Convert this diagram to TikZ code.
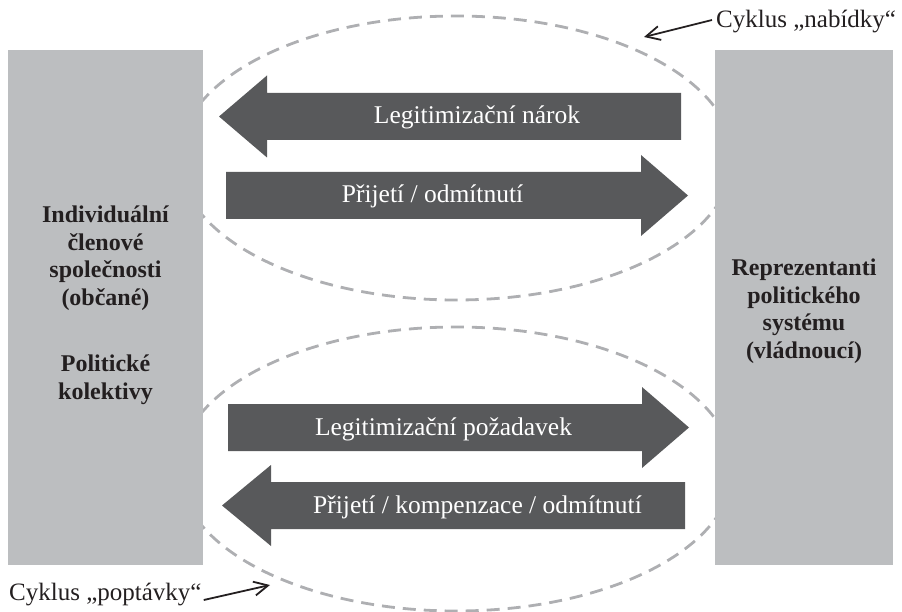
\documentclass[tikz,border=0pt]{standalone}
\usepackage{fontspec}
\setmainfont{Liberation Serif}
\usetikzlibrary{arrows.meta}
\definecolor{boxgray}{HTML}{BCBEC0}
\definecolor{arrowdark}{HTML}{58595B}
\definecolor{dashgray}{HTML}{AEAFB2}
\definecolor{ink}{HTML}{231F20}
\begin{document}
\begin{tikzpicture}[x=1pt,y=-1pt,
  graybox/.style={fill=boxgray, draw=none, inner sep=0pt},
  cycleline/.style={draw=dashgray, line width=2.8pt, dash pattern=on 13pt off 8pt},
  bigarrow/.style={fill=arrowdark},
  arrowtext/.style={text=white, font=\fontsize{25.5}{30}\selectfont, inner sep=0pt, anchor=base},
  sidetext/.style={text=ink, font=\bfseries\fontsize{24}{27.5}\selectfont, align=center, inner sep=0pt},
  cyctext/.style={text=ink, font=\fontsize{25}{30}\selectfont, inner sep=0pt},
  annot/.style={draw=ink, line width=1.8pt, -{Straight Barb[length=14pt,width=14pt]}}]
\useasboundingbox (0,0) rectangle (902,612);
% cycles
\draw[cycleline] (456,158) ellipse [x radius=277, y radius=142];
\draw[cycleline] (456,469) ellipse [x radius=277, y radius=142];
% side boxes
\node[graybox, minimum width=195pt, minimum height=515pt] (citizens) at (105.5,307.5) {};
\node[graybox, minimum width=178pt, minimum height=515pt] (rulers) at (804,307.5) {};
% big arrows
\fill[bigarrow] (219,116.5) -- (267,75.5) -- (267,93) -- (681,93) -- (681,140) -- (267,140) -- (267,157.5) -- cycle;
\fill[bigarrow] (688,195.5) -- (641,155) -- (641,172) -- (226,172) -- (226,219) -- (641,219) -- (641,236) -- cycle;
\fill[bigarrow] (689,427.5) -- (642,387) -- (642,404) -- (228,404) -- (228,451) -- (642,451) -- (642,468) -- cycle;
\fill[bigarrow] (222,505.5) -- (271,465) -- (271,482) -- (685,482) -- (685,529) -- (271,529) -- (271,546) -- cycle;
% arrow labels
\node[arrowtext] (claim) at (477,123.5) {Legitimizační nárok};
\node[arrowtext] (accept) at (432.5,202.5) {Přijetí / odmítnutí};
\node[arrowtext] (demand) at (443.5,435) {Legitimizační požadavek};
\node[arrowtext] (response) at (477.5,513) {Přijetí / kompenzace / odmítnutí};
% side labels
\node[sidetext] (members) at (105.5,258) {Individuální\\členové\\společnosti\\(občané)};
\node[sidetext] (collectives) at (105.5,380) {Politické\\kolektivy};
\node[sidetext] (representatives) at (804,311) {Reprezentanti\\politického\\systému\\(vládnoucí)};
% cycle labels
\node[cyctext, anchor=base west] (offer) at (716,28) {Cyklus „nabídky“};
\node[cyctext, anchor=base west] (request) at (9,600) {Cyklus „poptávky“};
\coordinate (offertip) at (644,37);
\coordinate (requesttip) at (270,585);
\draw[annot] ([shift={(-4,-2)}]offer.west) -- (offertip);
\draw[annot] ([shift={(2,6)}]request.east) -- (requesttip);
\end{tikzpicture}
\end{document}
